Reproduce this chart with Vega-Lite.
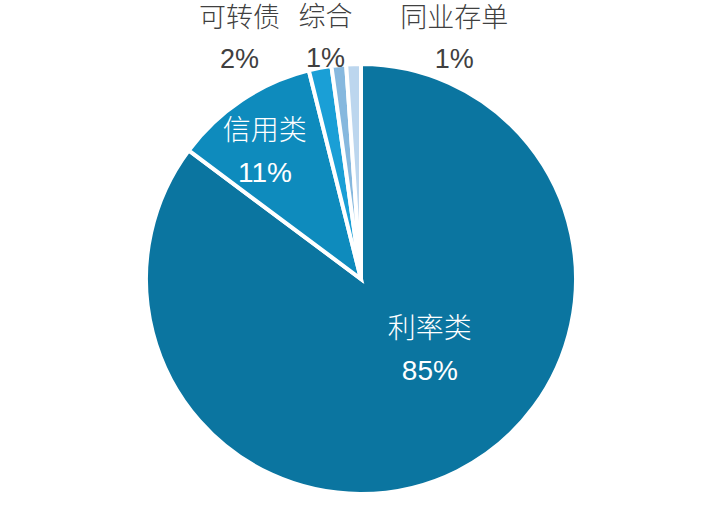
{
  "$schema": "https://vega.github.io/schema/vega-lite/v6.json",
  "autosize": {"type": "none"},
  "width": 714,
  "height": 490,
  "padding": {"left": 4, "top": 34, "right": 0, "bottom": 0},
  "background": "white",
  "view": {"stroke": null},
  "data": {
    "values": [
      {"idx": 1, "category": "利率类", "value": 85.2, "label": "利率类\n85%"},
      {"idx": 2, "category": "信用类", "value": 10.9, "label": "信用类\n11%"},
      {"idx": 3, "category": "可转债", "value": 1.7, "label": "可转债\n2%"},
      {"idx": 4, "category": "综合", "value": 1.1, "label": "综合\n1%"},
      {"idx": 5, "category": "同业存单", "value": 1.1, "label": "同业存单\n1%"}
    ]
  },
  "encoding": {
    "theta": {"field": "value", "type": "quantitative", "stack": true},
    "order": {"field": "idx", "type": "quantitative"}
  },
  "layer": [
    {
      "mark": {"type": "arc", "outerRadius": 215, "stroke": "white", "strokeWidth": 4},
      "encoding": {
        "color": {
          "field": "category",
          "type": "nominal",
          "scale": {
            "domain": ["利率类", "信用类", "可转债", "综合", "同业存单"],
            "range": ["#0B75A0", "#0E8BBD", "#1A9FD6", "#86B8DE", "#BCD6EE"]
          },
          "legend": null
        }
      }
    },
    {
      "mark": {"type": "text", "radius": 100, "dx": 24, "dy": -38, "fontSize": 28, "lineHeight": 42, "lineBreak": "\n", "font": "Liberation Sans, Noto Sans CJK SC", "fontWeight": 300, "fill": "white", "align": "center", "baseline": "middle"},
      "encoding": {
        "text": {"condition": {"test": "datum.category === '利率类'", "field": "label"}, "value": ""}
      }
    },
    {
      "mark": {"type": "text", "radius": 159, "dx": -8, "dy": -15, "fontSize": 28, "lineHeight": 42, "lineBreak": "\n", "font": "Liberation Sans, Noto Sans CJK SC", "fontWeight": 300, "fill": "white", "align": "center", "baseline": "middle"},
      "encoding": {
        "text": {"condition": {"test": "datum.category === '信用类'", "field": "label"}, "value": ""}
      }
    },
    {
      "mark": {"type": "text", "radius": 260, "dx": -72, "dy": -5, "fontSize": 27, "lineHeight": 41, "lineBreak": "\n", "font": "Liberation Sans, Noto Sans CJK SC", "fontWeight": 300, "fill": "#404040", "align": "center", "baseline": "middle"},
      "encoding": {
        "text": {"condition": {"test": "datum.category === '可转债'", "field": "label"}, "value": ""}
      }
    },
    {
      "mark": {"type": "text", "radius": 255, "dx": -9, "dy": -7, "fontSize": 27, "lineHeight": 41, "lineBreak": "\n", "font": "Liberation Sans, Noto Sans CJK SC", "fontWeight": 300, "fill": "#404040", "align": "center", "baseline": "middle"},
      "encoding": {
        "text": {"condition": {"test": "datum.category === '综合'", "field": "label"}, "value": ""}
      }
    },
    {
      "mark": {"type": "text", "radius": 255, "dx": 102, "dy": -5, "fontSize": 27, "lineHeight": 41, "lineBreak": "\n", "font": "Liberation Sans, Noto Sans CJK SC", "fontWeight": 300, "fill": "#404040", "align": "center", "baseline": "middle"},
      "encoding": {
        "text": {"condition": {"test": "datum.category === '同业存单'", "field": "label"}, "value": ""}
      }
    }
  ]
}
